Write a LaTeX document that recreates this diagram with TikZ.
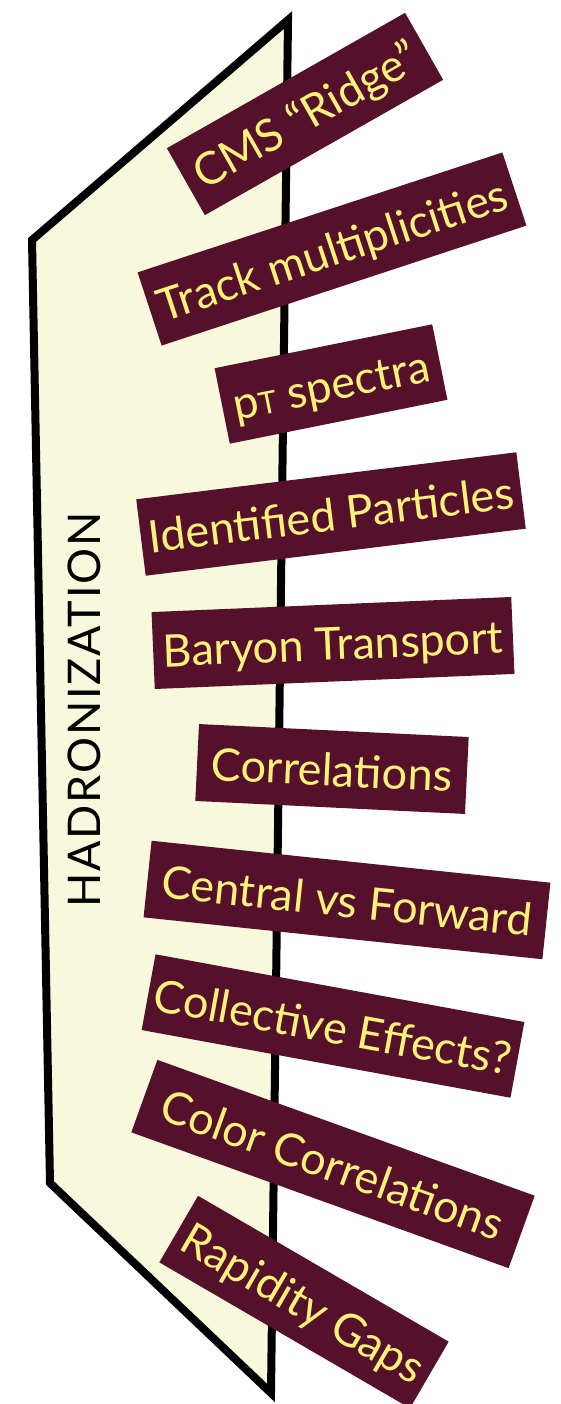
\documentclass[tikz,border=0pt]{standalone}
\usepackage{fontspec}
\setmainfont{Lato}
\definecolor{tagbg}{RGB}{85,17,43}
\definecolor{tagtext}{RGB}{255,242,122}
\definecolor{panelfill}{RGB}{247,248,220}
\begin{document}
\begin{tikzpicture}[x=1pt,y=-1pt,
  tag/.style={fill=tagbg, text=tagtext, inner sep=0pt, minimum height=77pt,
    text height=34pt, text depth=0pt, font=\fontsize{45}{45}\selectfont},
  panel/.style={fill=panelfill, draw=black, line width=8pt, line join=miter}]
\useasboundingbox (0,0) rectangle (561,1404);
% hadronization panel
\draw[panel] (288,20) -- (32,240) -- (50,1183) -- (271,1393) -- cycle;
\node[rotate=90, font=\fontsize{45}{45}\selectfont\addfontfeature{LetterSpace=4}] (had) at (84,710) {HADRONIZATION};
% observables
\node[tag, rotate=29.6,  minimum width=274pt] (ridge)   at (305,114)  {CMS “Ridge”};
\node[tag, rotate=18.2,  minimum width=384pt] (track)   at (332,249)  {Track multiplicities};
\node[tag, rotate=11.4,  minimum width=222pt] (pt)      at (331,384)  {p{\fontsize{31}{31}\selectfont T} spectra};
\node[tag, rotate=7.05,  minimum width=383pt] (ident)   at (331,514)  {Identified Particles};
\node[tag, rotate=2.4,   minimum width=360pt] (baryon)  at (333,643)  {Baryon Transport};
\node[tag, rotate=-2.76, minimum width=270pt] (corr)    at (332,769)  {Correlations};
\node[tag, rotate=-6,    minimum width=401pt] (central) at (347,900)  {Central vs Forward};
\node[tag, rotate=-10.4, minimum width=375pt] (coll)    at (333,1026) {Collective Effects?};
\node[tag, rotate=-19.8, minimum width=401pt] (color)   at (333,1164) {Color Correlations};
\node[tag, rotate=-30.2, minimum width=290pt] (gaps)    at (304,1302) {Rapidity Gaps};
\end{tikzpicture}
\end{document}
